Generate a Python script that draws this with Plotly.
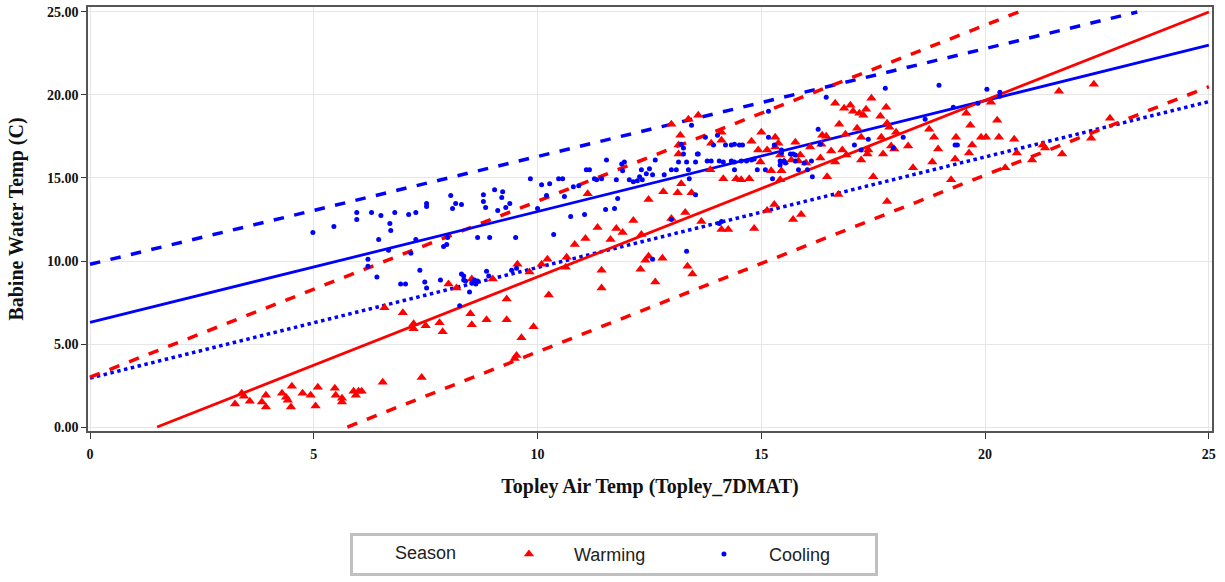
import plotly.graph_objects as go

# ---------------- data ----------------
warm_x = [3.24, 3.39, 3.44, 3.57, 3.84, 3.93, 3.93, 4.29, 4.38, 4.42, 4.49, 4.51, 4.75, 4.93, 5.04, 5.09,
          5.47, 5.49, 5.63, 5.63, 5.89, 5.94, 6.00, 6.07, 6.54, 7.41,
          6.58, 6.99, 7.23, 7.23, 7.50, 7.81, 7.88, 8.01, 8.19, 8.50, 8.53, 8.86, 9.31, 9.31, 8.53, 9.00,
          9.55, 9.53, 9.49,
          9.64, 9.91, 10.25, 9.82, 10.09, 10.22, 10.65, 10.63, 10.83, 11.07, 11.12, 11.34, 11.43, 11.43,
          11.63, 11.76, 11.90, 12.14, 12.48, 12.32, 12.48, 12.41, 12.30, 12.63, 12.79, 12.81, 12.99, 13.13,
          13.21, 13.30, 13.44, 13.35, 13.46, 13.19, 13.15, 13.15, 12.99, 13.37, 13.59,
          13.66, 14.11, 14.26, 14.84, 15.13, 15.29, 15.71, 15.89, 14.15, 14.44, 14.55, 14.73, 13.86, 13.88,
          14.11, 14.11, 14.78, 15.00, 14.93, 14.98, 15.13, 15.22, 15.31, 15.31, 15.38, 15.42, 15.45, 15.42,
          15.51, 15.67, 15.76, 15.83, 15.87, 16.00, 16.09, 16.32, 16.34, 16.36, 16.45, 16.47, 16.56, 16.65,
          16.65, 16.74, 16.72, 16.81, 16.85, 16.88, 16.90, 16.99, 17.05, 17.14, 17.19, 17.23, 17.23, 17.28,
          17.34, 17.39, 17.37, 17.46, 17.50, 17.68, 17.66, 17.72, 17.79, 17.81, 17.86, 17.90, 17.81, 17.97,
          18.01, 18.28, 18.39,
          18.82, 18.75, 18.86, 18.95, 19.24, 19.33, 19.35, 19.58, 19.67, 19.71, 19.64, 19.91, 20.02, 20.13,
          20.27, 20.31, 20.65, 20.71, 21.05, 20.45, 21.29, 21.34, 21.72, 21.65, 22.37, 22.43, 22.79]
warm_y = [1.38, 2.03, 1.85, 1.55, 1.50, 1.91, 1.20, 2.03, 1.79, 1.61, 1.20, 2.45, 2.03, 1.91, 1.26, 2.39,
          2.33, 1.91, 1.73, 1.50, 2.15, 1.91, 2.15, 2.15, 2.69, 2.99,
          7.18, 6.88, 6.22, 5.92, 6.10, 6.28, 5.74, 8.61, 8.37, 6.82, 6.16, 6.46, 7.71, 6.46, 8.91, 8.91,
          9.81, 4.31, 4.12,
          5.38, 6.04, 7.95, 9.33, 9.81, 10.11, 10.23, 9.63, 11.00, 11.36, 14.05, 12.02, 9.45, 8.37,
          11.30, 11.96, 11.72, 12.44, 13.70, 11.60, 10.29, 10.05, 9.51, 8.73, 10.17, 14.17, 12.56, 14.11,
          14.65, 12.92, 14.11, 9.69, 9.21, 17.58, 16.99, 16.45, 18.24, 18.54, 18.78,
          12.38, 11.90, 11.90, 11.96, 13.04, 13.40, 12.50, 12.80, 14.95, 14.95, 14.89, 14.95, 15.49, 17.10,
          17.28, 17.76, 17.22, 17.76, 16.69, 15.97, 16.69, 15.43, 17.46, 16.87, 17.10, 16.39, 15.43, 14.89,
          15.97, 16.09, 17.16, 16.03, 16.39, 15.91, 16.87, 16.21, 17.04, 17.58, 17.52, 15.07, 16.63, 15.97,
          19.50, 18.24, 14.00, 16.69, 19.20, 17.64, 16.39, 19.38, 19.02, 18.00, 18.90, 16.09, 17.46, 18.78,
          19.14, 16.69, 16.45, 19.80, 15.07, 17.46, 18.72, 16.45, 19.26, 18.30, 18.06, 16.93, 13.58, 16.75,
          17.76, 16.93, 15.61,
          15.97, 17.94, 17.46, 16.75, 14.89, 16.15, 17.46, 18.90, 18.18, 16.98, 16.51, 17.46, 17.46, 19.56,
          18.48, 17.46, 17.34, 16.51, 16.09, 15.61, 16.98, 16.81, 16.45, 20.22, 17.40, 20.64, 18.60]

cool_x = [4.98, 5.45, 5.96, 5.96, 6.29, 6.50, 6.45, 6.70, 6.72, 6.81, 7.12, 7.28, 7.52, 7.52, 8.06, 8.10,
          8.17, 8.30, 6.67, 7.28, 7.17, 7.90, 7.97, 7.99, 6.21, 6.21, 6.41, 7.37, 6.94, 7.05, 7.48, 7.52,
          7.83, 8.26, 8.30, 8.35, 8.35, 8.39, 8.48, 8.53, 8.59, 8.62, 8.66, 8.86, 8.91, 8.79, 8.79, 8.84,
          9.04, 9.11, 8.66, 8.93,
          9.22, 9.20, 9.29, 9.38, 9.51, 9.42, 9.53,
          9.84, 10.09, 10.00, 10.20, 10.27, 10.36, 10.47, 10.56, 10.60, 10.74, 10.80, 10.92, 11.05, 11.09,
          11.16, 11.27, 11.32, 11.43, 11.52, 11.54, 11.72, 11.79, 11.76, 11.88, 11.94, 11.90, 12.05, 12.14,
          12.23, 12.28, 12.34, 12.32, 12.43, 12.50, 12.57, 12.63, 12.83, 12.99, 13.10, 13.15, 13.26, 13.21,
          13.26, 13.33, 13.39, 13.37, 13.53, 13.57, 13.44, 12.99, 13.33, 12.57, 13.53,
          13.59, 13.75, 13.93, 14.02, 14.20, 14.33, 14.40, 14.51, 14.58, 13.79, 13.88, 14.06, 14.15, 14.33,
          14.40, 14.40, 14.55, 14.67, 14.78, 14.84, 14.91, 15.09, 15.16, 15.25, 15.29, 15.42, 15.42, 15.51,
          15.54, 15.65, 15.71, 15.76, 15.76, 15.83, 15.96, 16.03, 16.14, 16.12, 16.27, 16.32, 16.45, 17.08,
          17.23, 17.39, 17.77, 17.95, 18.17, 14.06, 14.11, 15.16, 15.45, 15.45,
          18.97, 20.04, 20.33, 20.33, 19.29, 18.66, 19.33, 19.38, 19.84]
cool_y = [11.72, 12.08, 12.92, 12.50, 12.92, 12.74, 11.30, 12.26, 11.84, 12.92, 12.80, 12.92, 13.46, 13.28,
          13.94, 13.16, 13.46, 13.40, 10.65, 11.30, 10.47, 10.88, 11.00, 11.42, 10.11, 9.69, 9.03, 9.45,
          8.61, 8.61, 8.73, 8.37, 8.85, 7.30, 9.21, 9.09, 8.85, 8.79, 8.13, 8.67, 8.85, 8.61, 8.79, 9.39,
          9.09, 13.99, 13.58, 13.22, 14.29, 13.04, 11.42, 11.42,
          14.17, 13.82, 13.22, 13.46, 11.42, 9.45, 9.57,
          14.95, 14.59, 13.16, 13.94, 14.65, 11.60, 14.95, 14.95, 13.88, 12.68, 14.47, 14.53, 12.80, 15.49,
          15.49, 14.95, 14.89, 14.95, 13.10, 16.09, 13.16, 13.76, 14.89, 15.85, 15.97, 15.43, 14.89, 14.77,
          14.83, 15.07, 14.89, 15.49, 15.25, 15.55, 15.19, 16.09, 15.19, 15.49, 15.49, 15.97, 16.81, 17.04,
          16.45, 15.97, 14.95, 15.49, 15.97, 16.45, 18.18, 12.50, 10.59, 10.11, 13.99,
          16.45, 17.46, 16.99, 17.58, 16.99, 16.99, 17.04, 16.99, 16.99, 16.03, 16.03, 16.03, 15.97, 16.03,
          15.49, 15.97, 16.03, 16.03, 16.09, 16.15, 15.49, 15.49, 17.46, 14.95, 16.99, 15.79, 16.03, 16.03,
          15.91, 16.45, 16.45, 16.39, 16.03, 15.49, 15.91, 15.49, 15.07, 16.03, 17.94, 17.04, 19.86, 16.99,
          16.69, 17.34, 20.40, 16.81, 17.46, 12.26, 12.38, 19.02, 16.69, 16.51,
          20.58, 20.34, 20.16, 19.92, 19.26, 18.54, 16.99, 16.99, 19.50]

# regression fits and prediction limits (end points)
warm_fit_x = [1.5, 25.0]
warm_fit_y = [0.0, 25.0]
warm_upper_x = [0.0, 20.75]
warm_upper_y = [3.0, 25.0]
warm_lower_x = [5.75, 25.0]
warm_lower_y = [0.0, 20.5]

cool_fit_x = [0.0, 25.0]
cool_fit_y = [6.3, 23.0]
cool_upper_x = [0.0, 23.4]
cool_upper_y = [9.8, 25.0]
cool_lower_x = [0.0, 25.0]
cool_lower_y = [2.95, 19.6]

x_ticks = [0, 5, 10, 15, 20, 25]
y_ticks = [0, 5, 10, 15, 20, 25]

RED = "#ff0000"
BLUE = "#0000ff"

fig = go.Figure()

def add_line(x, y, color, dash, width):
    fig.add_trace(go.Scatter(x=x, y=y, mode="lines", showlegend=False, hoverinfo="skip",
                             line=dict(color=color, dash=dash, width=width)))

add_line(cool_upper_x, cool_upper_y, BLUE, "dash", 3.5)
add_line(cool_lower_x, cool_lower_y, BLUE, "dot", 3.5)
add_line(warm_upper_x, warm_upper_y, RED, "dash", 3.5)
add_line(warm_lower_x, warm_lower_y, RED, "dash", 3.5)
add_line(cool_fit_x, cool_fit_y, BLUE, "solid", 2.8)
add_line(warm_fit_x, warm_fit_y, RED, "solid", 2.8)

fig.add_trace(go.Scatter(x=warm_x, y=warm_y, mode="markers", name="Warming",
                         marker=dict(symbol="triangle-up", size=9, color=RED)))
fig.add_trace(go.Scatter(x=cool_x, y=cool_y, mode="markers", name="Cooling",
                         marker=dict(symbol="circle", size=5, color=BLUE)))

axis_font = dict(family="Liberation Serif", size=14, color="#111", weight="bold")
title_font = dict(family="Liberation Serif", size=20, color="#111", weight="bold")
NB = "\u00a0"

fig.update_layout(
    width=1225, height=582,
    margin=dict(l=88, r=13, t=5, b=151),
    paper_bgcolor="white", plot_bgcolor="white",
    showlegend=True,
    legend=dict(
        orientation="h", x=0.233, xanchor="left", y=-0.24, yanchor="top",
        title=dict(text=NB * 8 + "Season" + NB * 4,
                   font=dict(family="Liberation Sans", size=18, color="#222"), side="left"),
        font=dict(family="Liberation Sans", size=18, color="#222"),
        bordercolor="#c0c0c0", borderwidth=3,
        entrywidth=100, entrywidthmode="pixels",
        itemwidth=80,
    ),
    xaxis=dict(
        range=[-0.045, 25.07], tickvals=x_ticks, ticktext=[str(v) for v in x_ticks],
        showgrid=True, gridcolor="#e6e6e6", gridwidth=1, zeroline=False,
        showline=True, linecolor="#555", linewidth=1.5, mirror=True,
        ticks="outside", ticklen=6, tickcolor="#333", tickfont=axis_font,
        ticklabelstandoff=3,
        title=dict(text="Topley Air Temp (Topley_7DMAT)", font=title_font, standoff=18),
    ),
    yaxis=dict(
        range=[-0.24, 25.30], tickvals=y_ticks, tickformat=".2f",
        showgrid=True, gridcolor="#e6e6e6", gridwidth=1, zeroline=False,
        showline=True, linecolor="#555", linewidth=1.5, mirror=True,
        ticks="outside", ticklen=5, tickcolor="#333", tickfont=axis_font,
        title=dict(text="Babine Water Temp (C)", font=title_font, standoff=18),
    ),
)

fig.write_html("out.html")
